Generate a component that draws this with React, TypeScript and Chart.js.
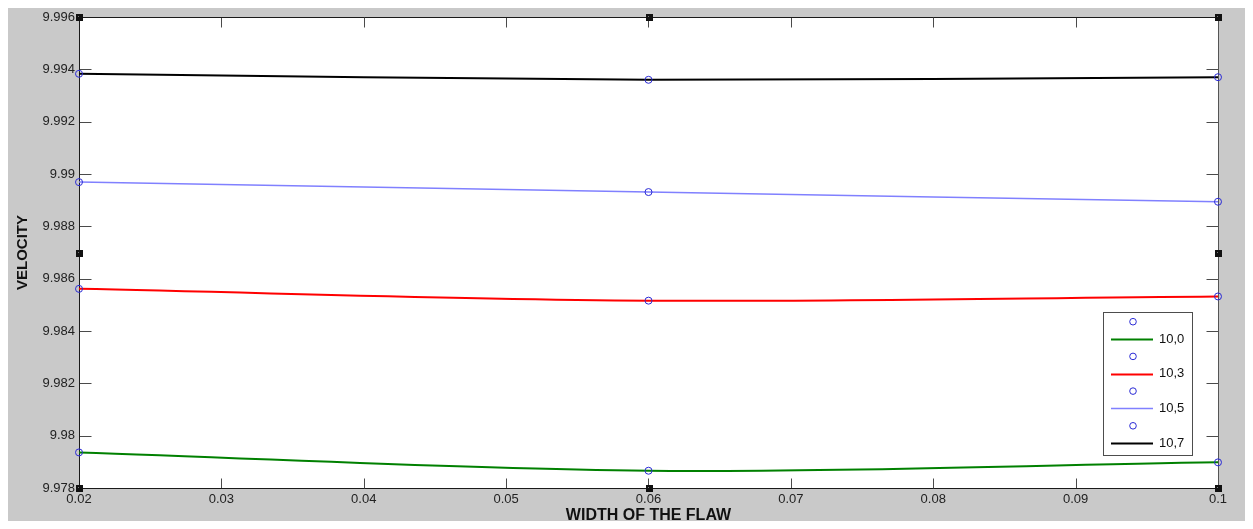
import React, { useEffect, useRef } from 'react';
import { Chart, registerables } from 'chart.js';

Chart.register(...registerables);

// ---- data ----
const flawWidths = [0.02, 0.06, 0.1];
const seriesLabels = ['10,0', '10,3', '10,5', '10,7'];
const velocity100 = [9.97936, 9.97866, 9.97898];
const velocity103 = [9.98561, 9.98516, 9.98532];
const velocity105 = [9.98969, 9.98931, 9.98894];
const velocity107 = [9.99383, 9.9936, 9.9937];
const lineColors = ['#008000', '#ff0000', '#8080ff', '#000000'];
const lineWidths = [2, 2, 1.5, 2];
const markerColor = '#2b2bd6';

const xTicks = [0.02, 0.03, 0.04, 0.05, 0.06, 0.07, 0.08, 0.09, 0.1];
const xTickLabels = ['0.02', '0.03', '0.04', '0.05', '0.06', '0.07', '0.08', '0.09', '0.1'];
const yTicks = [9.978, 9.98, 9.982, 9.984, 9.986, 9.988, 9.99, 9.992, 9.994, 9.996];
const yTickLabels = ['9.978', '9.98', '9.982', '9.984', '9.986', '9.988', '9.99', '9.992', '9.994', '9.996'];

const allSeries = [velocity100, velocity103, velocity105, velocity107];

const FONT = 'Arial, "Liberation Sans", Helvetica, sans-serif';

const framePlugin = {
  id: 'matlabFrame',
  beforeDraw(chart: any) {
    const { ctx, chartArea: a, width, height } = chart;
    ctx.save();
    ctx.fillStyle = '#c9c9c9';
    ctx.fillRect(0, 0, width, height);
    ctx.fillStyle = '#ffffff';
    ctx.fillRect(a.left, a.top, a.right - a.left, a.bottom - a.top);
    ctx.restore();
  },
  beforeDatasetsDraw(chart: any) {
    const { ctx, chartArea: a, scales } = chart;
    const xs = scales.x;
    const ys = scales.y;
    const L = Math.round(a.left) + 0.5;
    const R = Math.round(a.right) + 0.5;
    const T = Math.round(a.top) + 0.5;
    const B = Math.round(a.bottom) + 0.5;
    ctx.save();
    ctx.lineWidth = 1;
    ctx.strokeStyle = '#4a4a4a';
    ctx.beginPath();
    xs.ticks.forEach((t: any) => {
      const px = Math.round(xs.getPixelForValue(t.value)) + 0.5;
      ctx.moveTo(px, B);
      ctx.lineTo(px, B - 10);
      ctx.moveTo(px, T);
      ctx.lineTo(px, T + 10);
    });
    ys.ticks.forEach((t: any) => {
      const py = Math.round(ys.getPixelForValue(t.value)) + 0.5;
      ctx.moveTo(L, py);
      ctx.lineTo(L + 12, py);
      ctx.moveTo(R, py);
      ctx.lineTo(R - 12, py);
    });
    ctx.stroke();
    ctx.strokeStyle = '#1a1a1a';
    ctx.beginPath();
    ctx.moveTo(L, T);
    ctx.lineTo(R, T);
    ctx.moveTo(L, B);
    ctx.lineTo(R, B);
    ctx.moveTo(L, T);
    ctx.lineTo(L, B);
    ctx.stroke();
    ctx.strokeStyle = '#555555';
    ctx.beginPath();
    ctx.moveTo(R, T);
    ctx.lineTo(R, B);
    ctx.stroke();
    ctx.restore();
  },
  afterDraw(chart: any) {
    const { ctx, chartArea: a } = chart;
    ctx.save();
    // selection handles
    const cx = (a.left + a.right) / 2;
    const cy = (a.top + a.bottom) / 2;
    const pts = [
      [a.left, a.top], [cx, a.top], [a.right, a.top],
      [a.left, cy], [a.right, cy],
      [a.left, a.bottom], [cx, a.bottom], [a.right, a.bottom],
    ];
    ctx.fillStyle = '#111111';
    pts.forEach(([x, y]) => {
      ctx.fillRect(Math.round(x) - 3, Math.round(y) - 3, 7, 7);
    });
    ctx.fillStyle = '#777777';
    pts.forEach(([x, y]) => {
      ctx.fillRect(Math.round(x) - 1, Math.round(y) - 1, 1, 1);
    });

    // legend
    const ds = chart.data.datasets;
    const boxW = 89;
    const rowH = 17.35;
    const boxH = 143;
    const boxR = Math.round(a.right) - 26;
    const boxB = Math.round(a.bottom) - 33;
    const boxL = boxR - boxW;
    const boxT = boxB - boxH;
    ctx.fillStyle = '#ffffff';
    ctx.fillRect(boxL, boxT, boxW, boxH);
    ctx.strokeStyle = '#4d4d4d';
    ctx.lineWidth = 1;
    ctx.strokeRect(boxL + 0.5, boxT + 0.5, boxW, boxH);
    ctx.font = `13px ${FONT}`;
    ctx.textBaseline = 'middle';
    ctx.textAlign = 'left';
    ds.forEach((d: any, i: number) => {
      const y = boxT + 9.7 + i * rowH;
      if (d.showLine === false) {
        ctx.strokeStyle = d.pointBorderColor;
        ctx.lineWidth = 1;
        ctx.beginPath();
        ctx.arc(boxL + 30, y, 3.3, 0, Math.PI * 2);
        ctx.stroke();
      } else {
        ctx.strokeStyle = d.borderColor;
        ctx.lineWidth = d.borderWidth;
        ctx.beginPath();
        ctx.moveTo(boxL + 8, Math.round(y) + 0.5);
        ctx.lineTo(boxL + 50, Math.round(y) + 0.5);
        ctx.stroke();
        ctx.fillStyle = '#111111';
        ctx.fillText(d.label, boxL + 56, y);
      }
    });
    ctx.restore();
  },
};

export default function App() {
  const canvasRef = useRef<HTMLCanvasElement | null>(null);

  useEffect(() => {
    const canvas = canvasRef.current;
    if (!canvas) return;
    const datasets: any[] = [];
    allSeries.forEach((values, i) => {
      const pts = flawWidths.map((x, j) => ({ x, y: values[j] }));
      datasets.push({
        label: '',
        data: pts,
        showLine: false,
        pointStyle: 'circle',
        pointRadius: 3.5,
        pointBorderWidth: 1,
        pointBorderColor: markerColor,
        pointBackgroundColor: 'rgba(0,0,0,0)',
        clip: false,
        order: 0,
      });
      datasets.push({
        label: seriesLabels[i],
        data: pts,
        showLine: true,
        borderColor: lineColors[i],
        borderWidth: lineWidths[i],
        backgroundColor: lineColors[i],
        pointRadius: 0,
        tension: 0.34,
        fill: false,
        order: 1,
      });
    });

    const chart = new Chart(canvas, {
      type: 'scatter',
      data: { datasets },
      options: {
        animation: false,
        responsive: true,
        maintainAspectRatio: false,
        layout: { padding: { top: 9, right: 35, left: 0, bottom: 0 } },
        plugins: {
          legend: { display: false },
          tooltip: { enabled: false },
        },
        scales: {
          x: {
            type: 'linear',
            min: 0.02,
            max: 0.1,
            afterBuildTicks: (scale: any) => {
              scale.ticks = xTicks.map((value) => ({ value }));
            },
            afterFit: (scale: any) => {
              scale.height = 41;
            },
            grid: { display: false, drawTicks: false },
            border: { display: false },
            ticks: {
              autoSkip: false,
              maxRotation: 0,
              padding: 4,
              color: '#222222',
              font: { family: FONT, size: 13 },
              callback: (_v: any, i: number) => xTickLabels[i],
            },
            title: {
              display: true,
              text: 'WIDTH OF THE FLAW',
              color: '#111111',
              font: { family: FONT, size: 16, weight: 'bold' },
              padding: { top: 0, bottom: 4 },
            },
          },
          y: {
            type: 'linear',
            min: 9.978,
            max: 9.996,
            afterBuildTicks: (scale: any) => {
              scale.ticks = yTicks.map((value) => ({ value }));
            },
            afterFit: (scale: any) => {
              scale.width = 71;
            },
            grid: { display: false, drawTicks: false },
            border: { display: false },
            ticks: {
              autoSkip: false,
              padding: 4,
              color: '#222222',
              font: { family: FONT, size: 13, lineHeight: 0.77 },
              callback: (_v: any, i: number) => yTickLabels[i],
            },
            title: {
              display: true,
              text: 'VELOCITY',
              color: '#111111',
              font: { family: FONT, size: 15, weight: 'bold' },
              padding: { top: 5.5, bottom: 0 },
            },
          },
        },
      },
      plugins: [framePlugin],
    } as any);

    return () => {
      chart.destroy();
    };
  }, []);

  return (
    <div
      style={{
        position: 'relative',
        width: 'calc(100% + 8px)',
        height: '521px',
        marginBottom: '-8px',
      }}
    >
      <canvas ref={canvasRef} />
    </div>
  );
}
